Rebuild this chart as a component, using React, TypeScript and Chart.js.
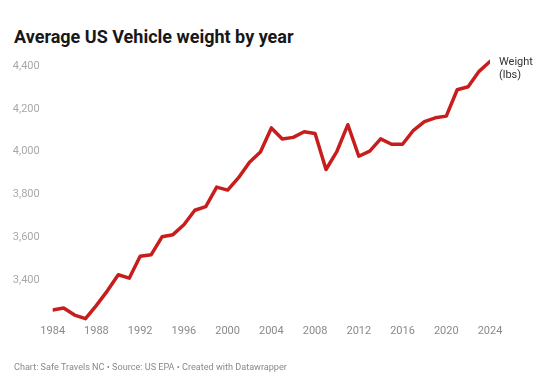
import React, { useEffect, useRef } from "react";
import { Chart, registerables } from "chart.js";

Chart.register(...registerables);

const years: number[] = [
  1984, 1985, 1986, 1987, 1988, 1989, 1990, 1991, 1992, 1993,
  1994, 1995, 1996, 1997, 1998, 1999, 2000, 2001, 2002, 2003,
  2004, 2005, 2006, 2007, 2008, 2009, 2010, 2011, 2012, 2013,
  2014, 2015, 2016, 2017, 2018, 2019, 2020, 2021, 2022, 2023, 2024,
];

const weights: number[] = [
  3262, 3271, 3238, 3221, 3283, 3351, 3426, 3410, 3512, 3519,
  3603, 3613, 3659, 3727, 3744, 3835, 3821, 3879, 3951, 3999,
  4111, 4059, 4067, 4093, 4085, 3917, 4002, 4126, 3979, 4003,
  4060, 4035, 4035, 4100, 4140, 4158, 4166, 4289, 4303, 4375, 4421,
];

const yTicks: number[] = [3400, 3600, 3800, 4000, 4200, 4400];
const xTicks: number[] = [1984, 1988, 1992, 1996, 2000, 2004, 2008, 2012, 2016, 2020, 2024];

const TITLE = "Average US Vehicle weight by year";
const FOOTER = "Chart: Safe Travels NC • Source: US EPA • Created with Datawrapper";
const SERIES_LABEL = ["Weight", "(lbs)"];

const FONT = "Roboto";
const RED = "#c71e1d";

const lineLabelPlugin = {
  id: "lineLabel",
  afterDatasetsDraw(chart: any) {
    const meta = chart.getDatasetMeta(0);
    const pts = meta.data;
    if (!pts || !pts.length) return;
    const last = pts[pts.length - 1];
    const ctx = chart.ctx;
    ctx.save();
    ctx.font = `11px ${FONT}`;
    ctx.fillStyle = "#333333";
    ctx.textAlign = "left";
    ctx.textBaseline = "middle";
    SERIES_LABEL.forEach((t, i) => {
      ctx.fillText(t, last.x + 9, last.y + 1 + i * 12.5);
    });
    ctx.restore();
  },
};

export default function App() {
  const canvasRef = useRef<HTMLCanvasElement | null>(null);

  useEffect(() => {
    const canvas = canvasRef.current;
    if (!canvas) return;
    const chart = new Chart(canvas, {
      type: "line",
      data: {
        datasets: [
          {
            label: "Weight (lbs)",
            data: years.map((y, i) => ({ x: y, y: weights[i] })),
            borderColor: RED,
            borderWidth: 3.5,
            pointRadius: 0,
            tension: 0,
            borderJoinStyle: "round",
            borderCapStyle: "round",
          },
        ],
      },
      options: {
        animation: false,
        responsive: false,
        maintainAspectRatio: false,
        layout: { padding: { left: 0, right: 50, top: 57.4, bottom: 0 } },
        plugins: {
          legend: { display: false },
          tooltip: { enabled: false },
          title: { display: false },
        },
        scales: {
          x: {
            type: "linear",
            min: 1984,
            max: 2024,
            grid: { display: false, drawTicks: false },
            border: { display: false },
            afterBuildTicks: (axis: any) => {
              axis.ticks = xTicks.map((v) => ({ value: v }));
            },
            afterFit: (axis: any) => {
              axis.height = 383 - 323.2;
            },
            ticks: {
              autoSkip: false,
              maxRotation: 0,
              padding: 1,
              color: "#8a8a8a",
              font: { family: FONT, size: 11 },
              callback: (v: any) => String(v),
            },
          },
          y: {
            type: "linear",
            min: 3200,
            max: 4440,
            grid: { display: false, drawTicks: false },
            border: { display: false },
            afterBuildTicks: (axis: any) => {
              axis.ticks = yTicks.map((v) => ({ value: v }));
            },
            afterFit: (axis: any) => {
              axis.width = 52.7;
            },
            ticks: {
              padding: 13,
              color: "#a8a8a8",
              font: { family: FONT, size: 11 },
              callback: (v: any) => Number(v).toLocaleString("en-US"),
            },
          },
        },
      },
      plugins: [lineLabelPlugin],
    } as any);
    return () => chart.destroy();
  }, []);

  return (
    <div
      style={{
        position: "fixed",
        left: 0,
        top: 0,
        width: 540,
        height: 383,
        background: "#ffffff",
        fontFamily: FONT,
      }}
    >
      <div
        style={{
          position: "absolute",
          left: 14,
          top: 28,
          fontSize: 18,
          lineHeight: "18px",
          fontWeight: 700,
          color: "#181818",
          whiteSpace: "nowrap",
        }}
      >
        {TITLE}
      </div>
      <canvas
        ref={canvasRef}
        width={540}
        height={383}
        style={{ position: "absolute", left: 0, top: 0, width: 540, height: 383 }}
      />
      <div
        style={{
          position: "absolute",
          left: 14,
          top: 362,
          fontSize: 9.1,
          lineHeight: "10px",
          color: "#8a8a8a",
          whiteSpace: "nowrap",
        }}
      >
        {FOOTER}
      </div>
    </div>
  );
}
